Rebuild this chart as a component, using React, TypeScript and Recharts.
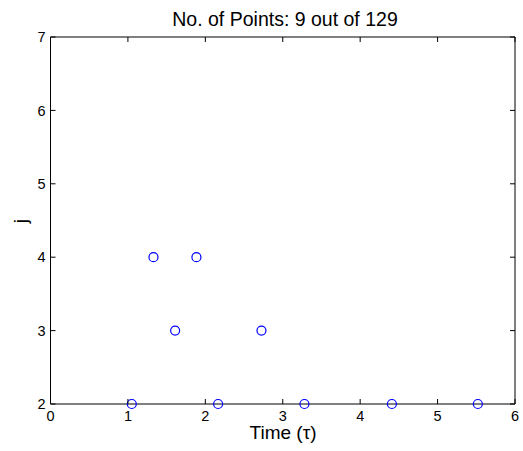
import React from "react";
import { ScatterChart, Scatter, XAxis, YAxis } from "recharts";

// Sampled points: time (τ) and level j
const times = [1.05, 1.33, 1.61, 1.885, 2.165, 2.725, 3.28, 4.41, 5.52];
const levels = [2, 4, 3, 4, 2, 3, 2, 2, 2];

const xTicks = [0, 1, 2, 3, 4, 5, 6];
const yTicks = [2, 3, 4, 5, 6, 7];

const titleText = "No. of Points: 9 out of 129";
const xLabel = "Time (τ)";
const yLabel = "j";

const data = times.map((t, i) => ({ t, j: levels[i] }));

const FONT = "'Liberation Sans', Arial, Helvetica, sans-serif";
const TICK_LEN = 5;

const BottomTick = (p: any) => (
  <g>
    <line x1={p.x} y1={p.y} x2={p.x} y2={p.y - TICK_LEN} stroke="#000" />
    <text x={p.x} y={p.y + 16.5} textAnchor="middle" fontSize={14.5} fontFamily={FONT} fill="#000">
      {p.payload.value}
    </text>
  </g>
);

const TopTick = (p: any) => (
  <line x1={p.x} y1={p.y} x2={p.x} y2={p.y + TICK_LEN} stroke="#000" />
);

const LeftTick = (p: any) => (
  <g>
    <line x1={p.x} y1={p.y} x2={p.x + TICK_LEN} y2={p.y} stroke="#000" />
    <text x={p.x - 5} y={p.y} dy="0.36em" textAnchor="end" fontSize={14.5} fontFamily={FONT} fill="#000">
      {p.payload.value}
    </text>
  </g>
);

const RightTick = (p: any) => (
  <line x1={p.x} y1={p.y} x2={p.x - TICK_LEN} y2={p.y} stroke="#000" />
);

const OpenCircle = (p: any) => (
  <circle cx={p.cx} cy={p.cy} r={4.5} fill="none" stroke="#0000FF" strokeWidth={1.2} />
);

// Mirror axes (top/right) need a bound series to render; it draws nothing.
const NoMark = () => <g />;

export default function App() {
  return (
    <div style={{ position: "absolute", left: 0, top: 0, width: 523, height: 451, background: "#fff" }}>
      <ScatterChart
        width={523}
        height={451}
        margin={{ top: 36, right: 7, bottom: 0, left: 0 }}
      >
        <XAxis
          xAxisId="b"
          dataKey="t"
          type="number"
          domain={[0, 6]}
          ticks={xTicks}
          orientation="bottom"
          height={47}
          tickSize={0}
          tickMargin={0}
          tick={BottomTick}
          axisLine={{ stroke: "#000" }}
          interval={0}
        />
        <XAxis
          xAxisId="t"
          dataKey="t"
          type="number"
          domain={[0, 6]}
          ticks={xTicks}
          orientation="top"
          height={1}
          tickSize={0}
          tickMargin={0}
          tick={TopTick}
          axisLine={{ stroke: "#000" }}
          interval={0}
        />
        <YAxis
          yAxisId="l"
          dataKey="j"
          type="number"
          domain={[2, 7]}
          ticks={yTicks}
          orientation="left"
          width={50.5}
          tickSize={0}
          tickMargin={0}
          tick={LeftTick}
          axisLine={{ stroke: "#000" }}
          interval={0}
        />
        <YAxis
          yAxisId="r"
          dataKey="j"
          type="number"
          domain={[2, 7]}
          ticks={yTicks}
          orientation="right"
          width={1}
          tickSize={0}
          tickMargin={0}
          tick={RightTick}
          axisLine={{ stroke: "#000" }}
          interval={0}
        />
        <Scatter
          data={data}
          xAxisId="t"
          yAxisId="r"
          shape={NoMark}
          isAnimationActive={false}
        />
        <Scatter
          data={data}
          xAxisId="b"
          yAxisId="l"
          shape={OpenCircle}
          isAnimationActive={false}
        />
        <text x={285} y={26} textAnchor="middle" fontSize={19.5} fontFamily={FONT} fill="#000">
          {titleText}
        </text>
        <text x={283} y={439} textAnchor="middle" fontSize={19} fontFamily={FONT} fill="#000">
          {xLabel}
        </text>
        <text
          x={27}
          y={221}
          textAnchor="middle"
          fontSize={19}
          fontFamily={FONT}
          fill="#000"
          transform="rotate(-90 27 221)"
        >
          {yLabel}
        </text>
      </ScatterChart>
    </div>
  );
}
